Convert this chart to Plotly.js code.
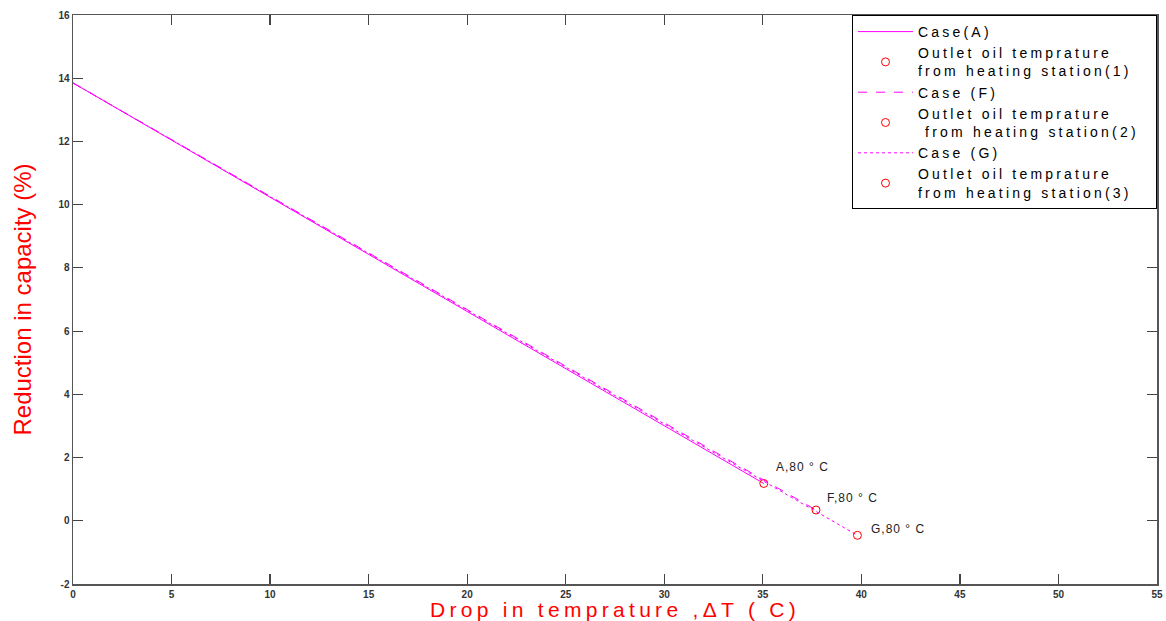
<!DOCTYPE html>
<html>
<head>
<meta charset="utf-8">
<script src="https://cdn.plot.ly/plotly-3.0.1.min.js"></script>
<style>
  html, body { margin: 0; padding: 0; background: #ffffff; }
  #chart { width: 1166px; height: 621px; }
</style>
</head>
<body>
<div id="chart"></div>
<script>
// ---- data ----
var caseAX = [0, 35.05];
var caseAY = [13.85, 1.18];
var caseFX = [0, 37.7];
var caseFY = [13.85, 0.34];
var caseGX = [0, 39.8];
var caseGY = [13.85, -0.46];

var outletX = [35.05, 37.7, 39.8];
var outletY = [1.18, 0.34, -0.46];
var outletLabels = ['A,80 \u00B0 C', 'F,80 \u00B0 C', 'G,80 \u00B0 C'];

var lineNames = ['Case(A)', 'Case (F)', 'Case (G)'];
var outletNames = [
  ['Outlet oil temprature', 'from heating station(1)'],
  ['Outlet oil temprature', '\u00A0from heating station(2)'],
  ['Outlet oil temprature', 'from heating station(3)']
];

var xTicks = [0, 5, 10, 15, 20, 25, 30, 35, 40, 45, 50, 55];
var yTicks = [-2, 0, 2, 4, 6, 8, 10, 12, 14, 16];

// ---- helpers ----
var LS = 'letter-spacing:3.2px';
function sp(t) { return '<span style="' + LS + '">' + t + '</span>'; }
function legName(parts) {
  return parts.map(function (p, k) {
    return sp(p) + (k === parts.length - 1 ? '\u00A0\u00A0\u00A0' : '');
  }).join('<br>');
}

var magenta = '#ff00ff';
var red = '#ff0000';

var lineData = [[caseAX, caseAY, 'solid'], [caseFX, caseFY, 'dash'], [caseGX, caseGY, 'dot']];
var traces = [];
for (var i = 0; i < 3; i++) {
  traces.push({
    type: 'scatter', mode: 'lines',
    x: lineData[i][0], y: lineData[i][1],
    name: sp(lineNames[i]),
    line: {color: magenta, width: 1, dash: lineData[i][2]}
  });
  traces.push({
    type: 'scatter', mode: 'markers',
    x: [outletX[i]], y: [outletY[i]],
    name: legName(outletNames[i]),
    marker: {symbol: 'circle-open', color: red, size: 8, line: {color: red, width: 1}}
  });
}

var shifts = [[10, 16], [9, 12], [12, 6]];
var annotations = outletX.map(function (x, i) {
  return {
    x: x, y: outletY[i], xref: 'x', yref: 'y',
    text: '<span style="letter-spacing:1px">' + outletLabels[i] + '</span>',
    showarrow: false, xanchor: 'left', yanchor: 'middle',
    xshift: shifts[i][0], yshift: shifts[i][1],
    font: {family: 'Arial, Liberation Sans, sans-serif', size: 12, color: '#222'}
  };
});

var axisCommon = {
  showgrid: false, zeroline: false,
  showline: true, linecolor: '#555', linewidth: 1.5,
  mirror: 'ticks', ticks: 'inside', ticklen: 10, tickwidth: 1.2, tickcolor: '#444',
  tickfont: {family: 'Arial, Liberation Sans, sans-serif', size: 10, color: '#333', weight: 'bold'},
  automargin: false
};

var layout = {
  width: 1166, height: 621,
  margin: {l: 73, r: 9, t: 15, b: 37},
  paper_bgcolor: '#ffffff', plot_bgcolor: '#ffffff',
  showlegend: true,
  xaxis: Object.assign({}, axisCommon, {
    range: [0, 55], tickvals: xTicks, ticktext: xTicks.map(String),
    title: {
      text: '<span style="letter-spacing:4.3px">Drop in temprature ,\u0394T ( C)</span>',
      font: {family: 'Arial, Liberation Sans, sans-serif', size: 21, color: red},
      standoff: 14
    }
  }),
  yaxis: Object.assign({}, axisCommon, {
    range: [-2, 16], tickvals: yTicks, ticktext: yTicks.map(String),
    title: {
      text: 'Reduction in capacity (%)',
      font: {family: 'Arial, Liberation Sans, sans-serif', size: 24, color: red},
      standoff: 20
    }
  }),
  legend: {
    x: 1, xanchor: 'right', y: 1, yanchor: 'top',
    xref: 'paper', yref: 'paper',
    bgcolor: '#ffffff', bordercolor: '#000000', borderwidth: 1,
    itemwidth: 55, tracegroupgap: 0,
    font: {family: 'Arial, Liberation Sans, sans-serif', size: 14, color: '#000'}
  },
  annotations: annotations
};

Plotly.newPlot('chart', traces, layout, {displayModeBar: false, staticPlot: true});
</script>
</body>
</html>
